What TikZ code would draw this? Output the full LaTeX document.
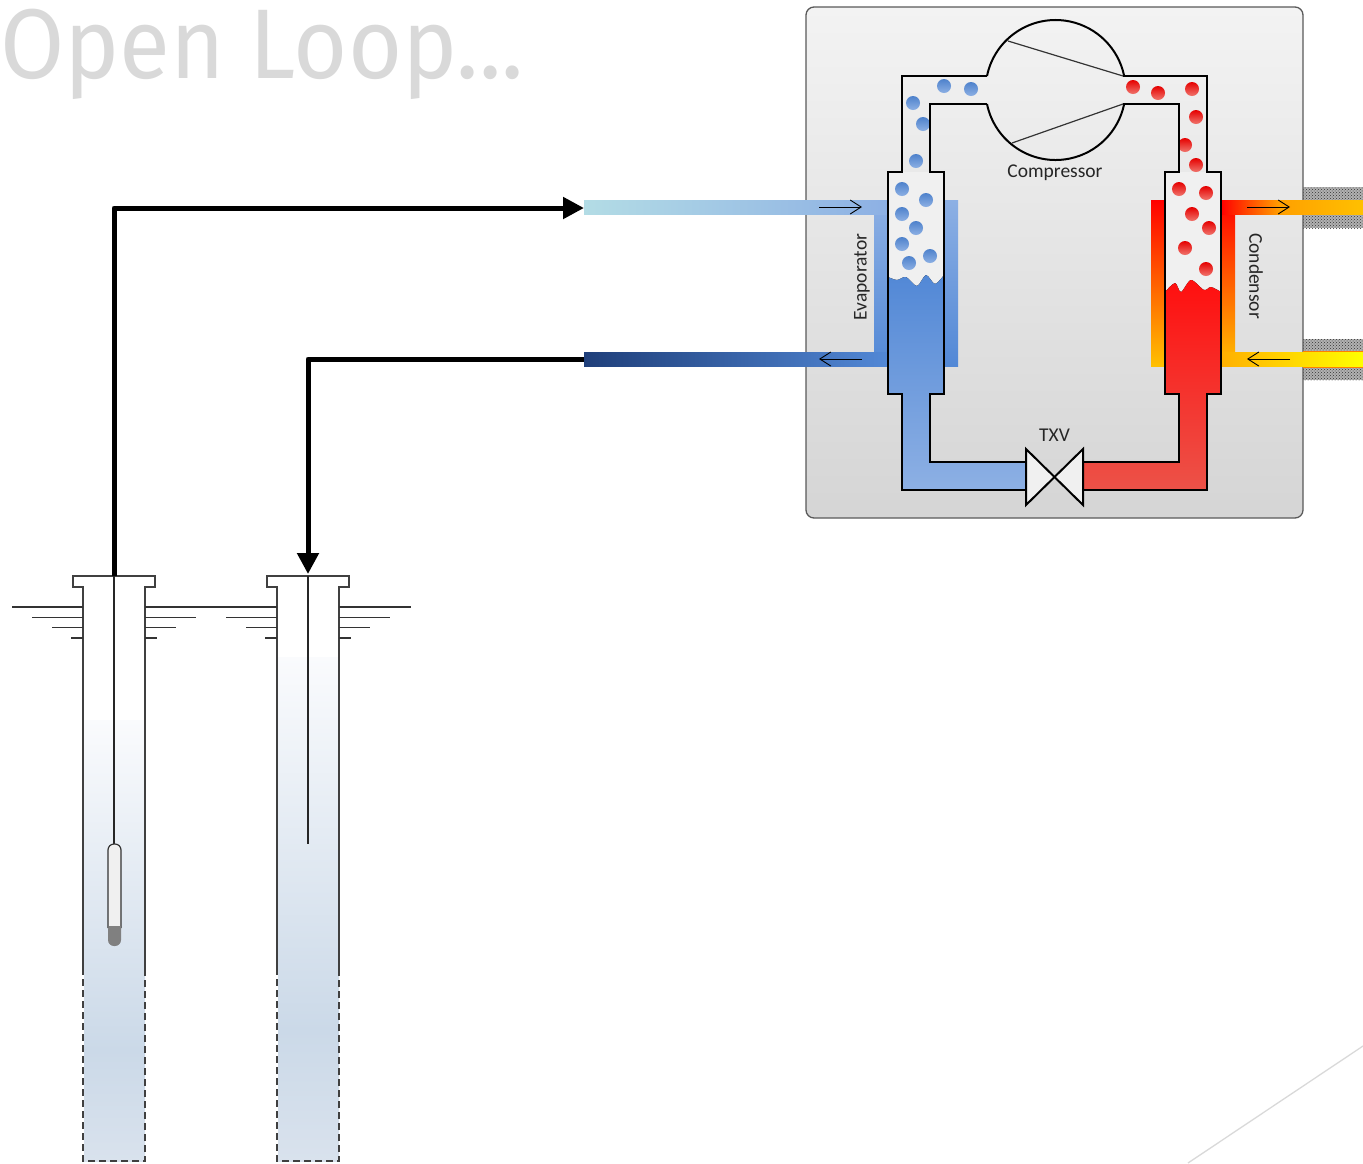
\documentclass[tikz,border=0pt]{standalone}
\usepackage{fontspec}
\setmainfont{Carlito}
\newfontfamily\titlefont{Fira Sans}
\usetikzlibrary{calc,positioning}
\usetikzlibrary{arrows.meta}
\usetikzlibrary{patterns}
\definecolor{boxtop}{HTML}{F3F3F3}
\definecolor{boxbot}{HTML}{D5D5D5}
\definecolor{coldA}{HTML}{5288D6}
\definecolor{coldB}{HTML}{8DB0E4}
\definecolor{coldC}{HTML}{B3DCE5}
\definecolor{coldD}{HTML}{1F3F7A}
\definecolor{coldE}{HTML}{3A66AC}
\definecolor{hotA}{HTML}{FF0F0F}
\definecolor{hotB}{HTML}{EC5248}
\definecolor{warmA}{HTML}{FFA000}
\definecolor{warmB}{HTML}{FFC000}
\definecolor{warmC}{HTML}{FFB000}
\definecolor{watertop}{HTML}{FAFBFD}
\definecolor{watermid}{HTML}{CBD9E8}
\definecolor{waterbot}{HTML}{D9E2ED}
\tikzset{
  circuit/.style={line width=2pt,line join=miter},
  flowline/.style={line width=5pt,line join=round,-{Triangle[length=21pt,width=21pt]}},
  thinflow/.style={line width=.9pt,-{Straight Barb[length=11pt,width=14pt]}},
  casing/.style={line width=1.4pt,draw=black!75},
  casingdash/.style={casing,dashed,dash pattern=on 7pt off 4pt},
  groundline/.style={line width=1.3pt,draw=black!80},
  hatchband/.style={pattern=crosshatch dots,pattern color=black!80},
  bluebubble/.style={top color=coldA!95!black,bottom color=coldB,draw=none},
  redbubble/.style={top color=red!90!black,bottom color=hotB!80!white,draw=none},
  label/.style={font=\fontsize{19.5}{19.5}\selectfont,text=black!85,inner sep=0pt}
}
\begin{document}
\begin{tikzpicture}[x=1pt,y=-1pt]
\useasboundingbox (0,0) rectangle (1363,1163);
% title and corner line
\node[anchor=base west,inner sep=0pt,text=black!15,xscale=.94,font=\titlefont\fontsize{99}{99}\selectfont] (title) at (0,78) {Open Loop...};
\draw[line width=1.3pt,black!15] (1363,1046) -- (1188,1163);
% insulation
\fill[gray!60] (1303,187) rectangle (1363,228);
\fill[gray!60] (1303,339) rectangle (1363,380);
\fill[hatchband] (1303,187) rectangle (1363,228);
\fill[hatchband] (1303,339) rectangle (1363,380);
% cabinet
\draw[rounded corners=8pt,line width=1.3pt,draw=black!65,top color=boxtop,bottom color=boxbot]
  (806,7) rectangle (1303,518);
% coils
\fill[top color=coldB,bottom color=coldA] (874,200) rectangle (888,366);
\fill[top color=coldB,bottom color=coldA] (944,200) rectangle (958,366);
\fill[left color=coldC,middle color=coldB!85!coldC,right color=coldB] (584,200) rectangle (888,214);
\fill[left color=coldD,middle color=coldE,right color=coldA] (584,352) rectangle (888,366);
\fill[top color=red,bottom color=warmB] (1151,200) rectangle (1165,366);
\fill[top color=red,bottom color=warmB] (1221,200) rectangle (1235,366);
\fill[orange] (1303,350.5) rectangle (1363,367.5);
\fill[left color=red,right color=warmA] (1221,200) rectangle (1280,214);
\fill[left color=warmA,right color=warmB] (1280,200) rectangle (1363,214);
\fill[left color=warmC,middle color=yellow!95!orange,right color=yellow] (1221,352) rectangle (1363,366);
% vapour and liquid
\fill[black!6] (888,172) rectangle (944,290);
\fill[black!6] (1165,172) rectangle (1221,300);
\fill[top color=coldA,bottom color=coldB]
  plot[smooth] coordinates {(888,277) (897,280) (906,277) (917,286) (926,275) (935,284) (944,275)}
  -- (944,394) -- (930,394) -- (930,462) -- (1026,462) -- (1026,490) -- (902,490) -- (902,394) -- (888,394) -- cycle;
\fill[top color=hotA,bottom color=hotB]
  plot[smooth] coordinates {(1165,292) (1175,283) (1181,292) (1191,280) (1204,290) (1211,287) (1221,292)}
  -- (1221,394) -- (1207,394) -- (1207,490) -- (1083,490) -- (1083,462) -- (1179,462) -- (1179,394) -- (1165,394) -- cycle;
% bubbles
\foreach \px/\py in {913/103,923/124,916/161,944/86,971/89,902/189,926/200,902/214,916/228,902/244,930/256,909/263}
  \shade[bluebubble] (\px,\py) circle (7pt);
\foreach \px/\py in {1133/87,1158/93,1192/89,1196/117,1185/145,1196/165,1179/189,1206/193,1192/214,1209/228,1185/248,1206/269}
  \shade[redbubble] (\px,\py) circle (7pt);
% circuit outline
\draw[circuit] (987,76) -- (902,76) -- (902,172) -- (888,172) -- (888,394) -- (902,394) -- (902,490) -- (1026,490);
\draw[circuit] (987,104) -- (930,104) -- (930,172) -- (944,172) -- (944,394) -- (930,394) -- (930,462) -- (1026,462);
\draw[circuit] (1123,76) -- (1207,76) -- (1207,172) -- (1221,172) -- (1221,394) -- (1207,394) -- (1207,490) -- (1083,490);
\draw[circuit] (1123,104) -- (1179,104) -- (1179,172) -- (1165,172) -- (1165,394) -- (1179,394) -- (1179,462) -- (1083,462);
% compressor
\draw[circuit] (987,76) arc[start angle=168.46,end angle=11.54,radius=70pt];
\draw[circuit] (987,104) arc[start angle=191.54,end angle=348.46,radius=70pt];
\draw[line width=1.2pt,black!80] (1008,41) -- (1123,76);
\draw[line width=1.2pt,black!80] (1012,143) -- (1123,104);
\coordinate (comp) at (1055,90);
\node[label,below=75pt of comp] (compname) {Compressor};
% valve
\coordinate (valve) at (1054.5,477);
\draw[circuit,fill=black!6] (1026,449) -- (valve) -- (1026,505) -- cycle;
\draw[circuit,fill=black!6] (1083,449) -- (valve) -- (1083,505) -- cycle;
\node[label,above=35pt of valve] (valvename) {TXV};
% labels on the coils
\node[label,rotate=90] (evap) at (862,277) {Evaporator};
\node[label,rotate=-90] (cond) at (1256,276) {Condensor};
% small flow arrows
\coordinate (ea) at (819,207); \coordinate (eb) at (862,207);
\coordinate (ec) at (862,359); \coordinate (ed) at (819,359);
\coordinate (ca) at (1247,207); \coordinate (cb) at (1290,207);
\coordinate (cc) at (1290,359); \coordinate (cd) at (1247,359);
\draw[thinflow] (ea) -- (eb);
\draw[thinflow] (ec) -- (ed);
\draw[thinflow] (ca) -- (cb);
\draw[thinflow] (cc) -- (cd);
% wells
\shade[top color=watertop,bottom color=watermid] (84,720) rectangle (145,1050);
\fill[top color=watermid,bottom color=waterbot] (84,1050) rectangle (145,1161);
\shade[top color=watertop,bottom color=watermid] (278,657) rectangle (339,1030);
\fill[top color=watermid,bottom color=waterbot] (278,1030) rectangle (339,1161);
\foreach \cx/\nm in {114/A,308/B}{
  \coordinate (well\nm) at (\cx,576);
  \draw[casing,fill=none] (\cx-31,968) -- (\cx-31,587) -- (\cx-41,587) -- (\cx-41,576) -- (\cx+41,576) -- (\cx+41,587) -- (\cx+31,587) -- (\cx+31,975);
  \draw[casingdash] (\cx-31,968) -- (\cx-31,1161) -- (\cx+31,1161) -- (\cx+31,975);
  \draw[groundline] (\cx-102,607) -- (\cx-31,607);
  \draw[groundline] (\cx+31,607) -- (\cx+103,607);
  \draw[groundline] (\cx-82,617.5) -- (\cx-31,617.5);
  \draw[groundline] (\cx+31,617.5) -- (\cx+82,617.5);
  \draw[groundline] (\cx-62,627.5) -- (\cx-31,627.5);
  \draw[groundline] (\cx+31,627.5) -- (\cx+62,627.5);
  \draw[groundline] (\cx-43,638) -- (\cx-31,638);
  \draw[groundline] (\cx+31,638) -- (\cx+43,638);
  \draw[line width=1.3pt,black!85] (well\nm) -- (\cx,844);
}
% pump
\fill[rounded corners=6pt,black!50] (108,920) rectangle (121,946);
\draw[line width=1.2pt,draw=black!80,fill=black!6,rounded corners=6pt] (108,928) -- (108,844) -- (121,844) -- (121,928);
\fill[black!50] (108.5,926) rectangle (120.5,938);
% main lines
\coordinate (pipeA) at (584,208);
\coordinate (pipeB) at (584,359);
\coordinate (wellBtip) at (308,574);
\draw[flowline] (wellA) |- (pipeA);
\draw[flowline] (pipeB) -| (wellBtip);
\end{tikzpicture}
\end{document}
